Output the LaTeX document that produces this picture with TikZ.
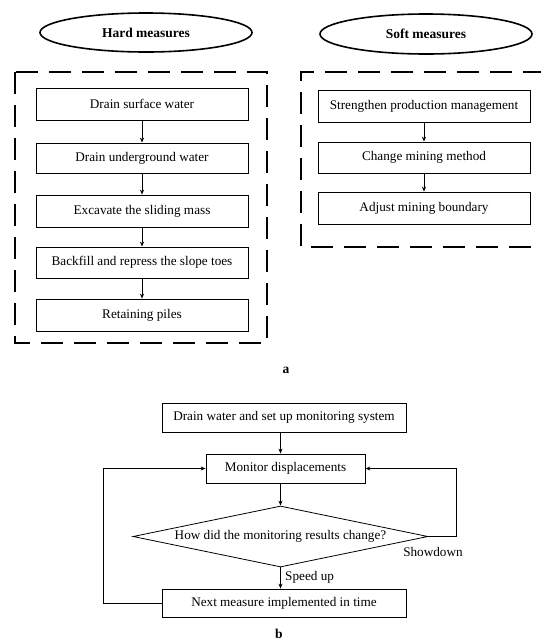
\documentclass[tikz,border=0pt]{standalone}
\usepackage{fontspec}
\setmainfont{Liberation Serif}
\usetikzlibrary{shapes.geometric,arrows.meta}
\begin{document}
\begin{tikzpicture}[x=1pt,y=-1pt,
  every node/.style={font=\fontsize{13.2}{15}\selectfont},
  stepbox/.style={draw, line width=0.8pt, inner sep=0pt, minimum width=212pt, minimum height=32pt},
  groupbox/.style={draw, line width=2.4pt, dash pattern=on 22pt off 11pt},
  title/.style={draw, ellipse, line width=1.6pt, inner sep=0pt, minimum width=212pt, minimum height=39pt, font=\fontsize{13.5}{15}\bfseries\selectfont},
  arr/.style={-{Stealth[length=5pt,width=4pt]}, line width=0.8pt},
  ln/.style={line width=0.8pt},
  flowbox/.style={draw, line width=0.8pt, inner sep=0pt, minimum height=29pt},
  lbl/.style={font=\fontsize{13.5}{15}\bfseries\selectfont}
]
\useasboundingbox (0,0) rectangle (541,641);

% ---- part a: hard measures
\node[title] (hard) at (146,32.5) {Hard measures};
\draw[groupbox] (15,72) rectangle (267,343);
\node[stepbox] (h1) at (142,104) {Drain surface water};
\node[stepbox, minimum height=30pt] (h2) at (142,158) {Drain underground water};
\node[stepbox] (h3) at (142,211) {Excavate the sliding mass};
\node[stepbox, minimum height=31pt] (h4) at (142,262.5) {Backfill and repress the slope toes};
\node[stepbox] (h5) at (142,315) {Retaining piles};
\draw[arr] (h1) -- (h2);
\draw[arr] (h2) -- (h3);
\draw[arr] (h3) -- (h4);
\draw[arr] (h4) -- (h5);

% ---- part a: soft measures
\node[title, minimum height=40pt] (soft) at (426,34) {Soft measures};
\draw[groupbox] (545,72) -- (301,72) -- (301,247) -- (545,247);
\node[stepbox] (s1) at (424,106) {Strengthen production management};
\node[stepbox, minimum height=31pt] (s2) at (424,157.5) {Change mining method};
\node[stepbox] (s3) at (424,208) {Adjust mining boundary};
\draw[arr] (s1) -- (s2);
\draw[arr] (s2) -- (s3);

\node[lbl] (la) at (286,370) {a};

% ---- part b
\node[flowbox, minimum width=244pt] (top) at (284,417.5) {Drain water and set up monitoring system};
\node[flowbox, minimum width=159pt] (mon) at (285.5,468.5) {Monitor displacements};
\node[draw, diamond, line width=0.8pt, inner sep=0pt, aspect=4.8, minimum width=295pt, minimum height=61pt] (dec) at (280.5,536.5) {How did the monitoring results change?};
\node[flowbox, minimum width=244pt, minimum height=28pt] (next) at (284,603) {Next measure implemented in time};

\draw[arr] (dec.north |- top.south) -- (dec.north |- mon.north);
\draw[arr] (dec.north |- mon.south) -- (dec.north);
\draw[arr] (dec.south) -- (dec.south |- next.north) node[pos=0.45, right=1pt] (spd) {Speed up};

\coordinate (lc1) at (103,603);
\coordinate (lc2) at (103,468.5);
\draw[arr] (next.west) -- (lc1) -- (lc2) -- (mon.west);

\coordinate (rc1) at (456,536.5);
\coordinate (rc2) at (456,468.5);
\draw[arr] (dec.east) -- (rc1) -- (rc2) -- (mon.east);
\node (sd) at (433,552) {Showdown};

\node[lbl] (lb) at (279,634) {b};
\end{tikzpicture}
\end{document}
